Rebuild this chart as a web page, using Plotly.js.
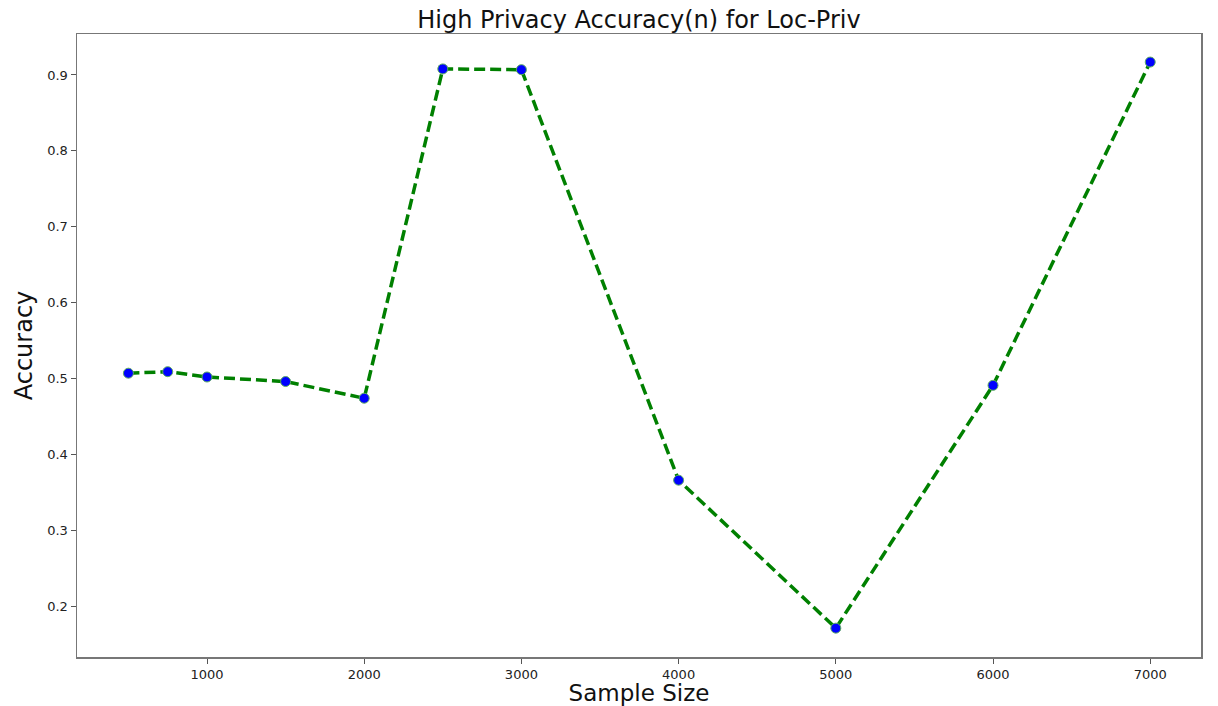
<!DOCTYPE html>
<html>
<head>
<meta charset="utf-8">
<script src="https://cdn.plot.ly/plotly-3.0.1.min.js"></script>
<style>html,body{margin:0;padding:0;background:#fff;}#chart{width:1218px;height:706px;}</style>
</head>
<body>
<div id="chart"></div>
<script>
const sampleSizes = [500, 750, 1000, 1500, 2000, 2500, 3000, 4000, 5000, 6000, 7000];
const accuracy = [0.507, 0.509, 0.502, 0.496, 0.474, 0.908, 0.907, 0.366, 0.171, 0.491, 0.917];
const xTicks = [1000, 2000, 3000, 4000, 5000, 6000, 7000];
const yTicks = [0.2, 0.3, 0.4, 0.5, 0.6, 0.7, 0.8, 0.9];

const trace = {
  x: sampleSizes, y: accuracy, type: 'scatter', mode: 'lines+markers',
  line: {color: 'green', width: 3.5, dash: '11px,5px'},
  marker: {color: 'blue', size: 10, line: {color: '#5fae5f', width: 1}}
};
const fnt = {family: 'DejaVu Sans', color: '#222'};
const layout = {
  width: 1218, height: 706,
  margin: {l: 77, r: 17, t: 34, b: 49},
  paper_bgcolor: '#fff', plot_bgcolor: '#fff',
  showlegend: false,
  title: {text: 'High Privacy Accuracy(n) for Loc-Priv', font: {family: 'DejaVu Sans', size: 24, color: '#111'}, x: 0.5246, xanchor: 'center', y: 0.972, yanchor: 'middle'},
  xaxis: {
    range: [173, 7323], tickvals: xTicks, ticktext: xTicks.map(String),
    ticks: 'outside', ticklen: 5, tickcolor: '#555', showgrid: false, zeroline: false,
    showline: true, linecolor: '#777', linewidth: 1.5, mirror: true,
    tickfont: Object.assign({size: 13}, fnt),
    title: {text: 'Sample Size', font: {family: 'DejaVu Sans', size: 23, color: '#111'}, standoff: 9}
  },
  yaxis: {
    range: [0.133, 0.954], tickvals: yTicks, ticktext: yTicks.map(v => v.toFixed(1)),
    ticks: 'outside', ticklen: 5, tickcolor: '#555', showgrid: false, zeroline: false,
    showline: true, linecolor: '#777', linewidth: 1.5, mirror: true,
    tickfont: Object.assign({size: 13}, fnt),
    title: {text: 'Accuracy', font: {family: 'DejaVu Sans', size: 24, color: '#111'}, standoff: 8}
  }
};
Plotly.newPlot('chart', [trace], layout, {displayModeBar: false, staticPlot: true});
</script>
</body>
</html>
